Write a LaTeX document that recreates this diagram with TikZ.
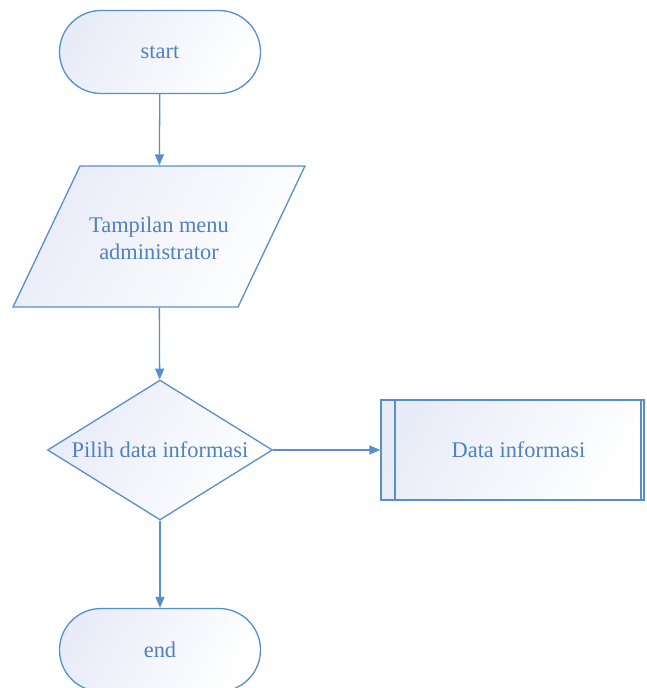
\documentclass[tikz,border=0pt]{standalone}
\usepackage{fontspec}
\setmainfont{Liberation Serif}
\usetikzlibrary{shapes.misc,shapes.geometric,arrows.meta}
\definecolor{flowline}{RGB}{86,142,206}
\definecolor{flowtext}{RGB}{79,129,189}
\definecolor{flowfill}{RGB}{232,236,248}
\tikzset{
    every node/.style={font=\fontsize{22.4}{27}\selectfont, text=flowtext},
    shaded/.style={draw=flowline, line width=1.3pt, left color=flowfill, right color=white, shading angle=60},
    terminal/.style={shaded, rounded rectangle, minimum width=201pt, minimum height=83pt, inner sep=0pt},
    inout/.style={shaded, trapezium, trapezium left angle=64.6, trapezium right angle=115.4, inner sep=0pt},
    decision/.style={shaded, diamond, minimum width=225pt, minimum height=140pt, inner sep=0pt, aspect=1.6},
    subproc/.style={shaded, rectangle, minimum width=263pt, minimum height=100pt, inner sep=0pt,
        path picture={\draw[flowline, line width=1.3pt] ([xshift=14pt]path picture bounding box.north west) -- ([xshift=14pt]path picture bounding box.south west);
                      \draw[flowline, line width=1.3pt] ([xshift=-3pt]path picture bounding box.north east) -- ([xshift=-3pt]path picture bounding box.south east);}},
    flow/.style={draw=flowline, line width=1.3pt, -{Triangle[length=11pt, width=9pt]}}
}
\begin{document}
\begin{tikzpicture}[x=1pt, y=-1pt]
        \useasboundingbox (0, 0) rectangle (646, 688);
        \clip (0, 0) rectangle (646, 688);
        \node[terminal] (start) at (160, 52) {\raisebox{-3pt}{start}};
        \node[inout] (menu) at (159, 236.5) {\parbox[c][141pt][c]{158pt}{\centering\vspace*{4pt}Tampilan menu\\administrator}};
        \node[decision] (pilih) at (160, 450) {Pilih data informasi};
        \node[subproc] (info) at (512.5, 450) {\hspace*{12pt}Data informasi};
        \node[terminal] (end) at (160, 650) {end};
        
        \draw[flow] (start) -- (menu);
        \draw[flow] (menu) -- (pilih);
        \draw[flow] (pilih) -- (info);
        \draw[flow] (pilih) -- (end);
    \end{tikzpicture}
\end{document}
